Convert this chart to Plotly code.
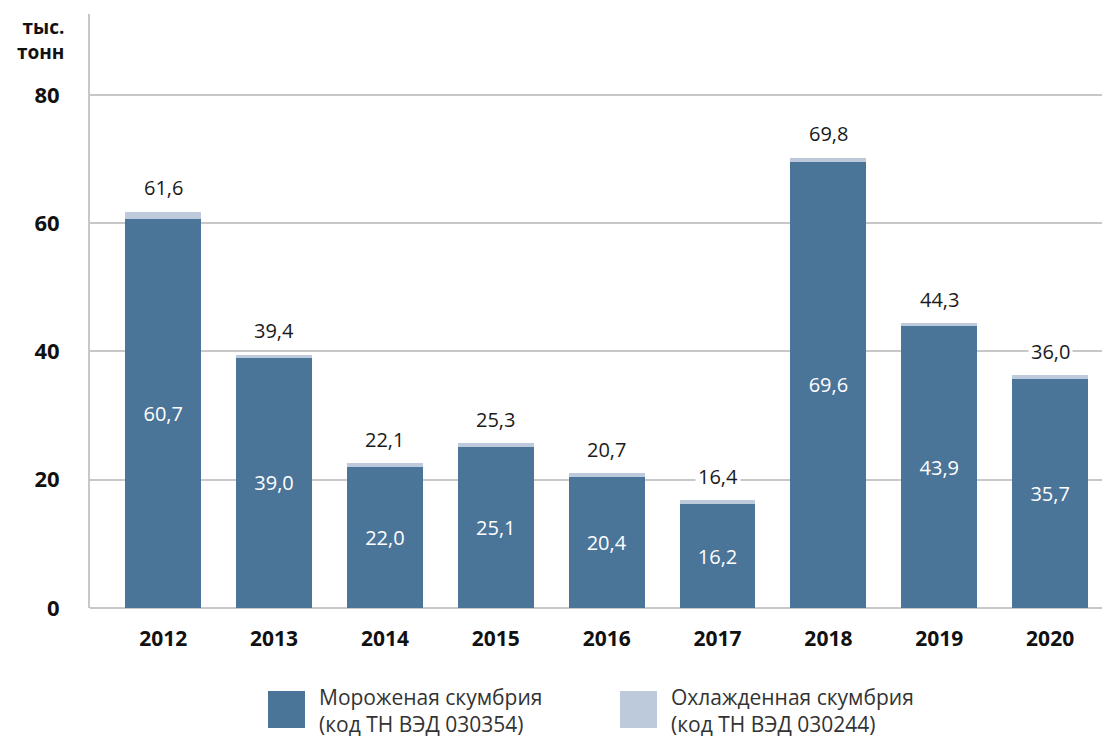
import plotly.graph_objects as go

years = ["2012", "2013", "2014", "2015", "2016", "2017", "2018", "2019", "2020"]
frozen = [60.7, 39.0, 22.0, 25.1, 20.4, 16.2, 69.6, 43.9, 35.7]
chilled = [1.1, 0.5, 0.6, 0.6, 0.6, 0.6, 0.6, 0.5, 0.6]  # visible heights
totals = [61.6, 39.4, 22.1, 25.3, 20.7, 16.4, 69.8, 44.3, 36.0]
y_ticks = [0, 20, 40, 60, 80]
unit_label = "тыс.<br>тонн"
name_frozen = "Мороженая скумбрия<br>(код ТН ВЭД 030354)"
name_chilled = "Охлажденная скумбрия<br>(код ТН ВЭД 030244)"

DARK = "#4b7499"
LIGHT = "#bccadb"
FONT = "Open Sans"

def fmt(v):
    return f"{v:.1f}".replace(".", ",")

fig = go.Figure()
fig.add_trace(go.Bar(
    x=years, y=frozen, marker=dict(color=DARK, line=dict(width=0)),
    text=[fmt(v) for v in frozen], textposition="inside", insidetextanchor="middle",
    textfont=dict(color="white", size=20, family=FONT), name=name_frozen,
    showlegend=False,
))
fig.add_trace(go.Bar(
    x=years, y=chilled, marker=dict(color=LIGHT, line=dict(width=0)),
    name=name_chilled, showlegend=False, textposition="none",
))

for i, (f, c, t) in enumerate(zip(frozen, chilled, totals)):
    fig.add_annotation(x=i, y=f + c, text=fmt(t), showarrow=False,
                       yanchor="middle", yshift=24,
                       font=dict(size=20, color="#1a1a1a", family=FONT),
                       bgcolor="white", borderpad=2)

# page body has an 8px offset; the figure is sized to fill the rest of the window
OFF = 8
W, H = 1110 - OFF, 738 - OFF
L, R, T, B = 90 - OFF, 0, 14 - OFF, 130
pw, ph = W - L - R, H - T - B

def px(p):
    return (p - OFF - L) / pw

def py(q):
    return (H - B - (q - OFF)) / ph

fig.add_annotation(xref="paper", yref="paper", x=px(66), y=py(12), text="<b>" + unit_label + "</b>",
                   showarrow=False, xanchor="right", yanchor="top", align="right",
                   font=dict(size=19, color="#111", family=FONT))

# legend
for x0, name, col in [(268, name_frozen, DARK), (620, name_chilled, LIGHT)]:
    fig.add_shape(type="rect", xref="paper", yref="paper",
                  x0=px(x0), x1=px(x0 + 37), y0=py(728), y1=py(691),
                  fillcolor=col, line=dict(width=0))
    fig.add_annotation(xref="paper", yref="paper", x=px(x0 + 49), y=py(710), text=name,
                       showarrow=False, xanchor="left", yanchor="middle", align="left",
                       font=dict(size=21, color="#333", family=FONT))

fig.update_layout(
    width=W, height=H, margin=dict(l=L, r=R, t=T, b=B),
    barmode="stack", bargap=0.315,
    plot_bgcolor="white", paper_bgcolor="white",
    font=dict(family=FONT, color="#111"),
)
fig.update_xaxes(type="category", range=[-0.66, 8.54], showgrid=False, showline=False, ticks="",
                 tickfont=dict(size=21, family=FONT, color="#111", weight="bold"),
                 ticklabelstandoff=16)
fig.update_yaxes(range=[0, 92.6], tickvals=y_ticks, showgrid=True, gridcolor="#c8c8c8", gridwidth=2,
                 showline=True, linecolor="#c8c8c8", linewidth=2, zeroline=True,
                 zerolinecolor="#c8c8c8", zerolinewidth=2, ticks="",
                 tickfont=dict(size=22, family=FONT, color="#111", weight="bold"),
                 ticklabelstandoff=24)

fig.write_html("out.html")
